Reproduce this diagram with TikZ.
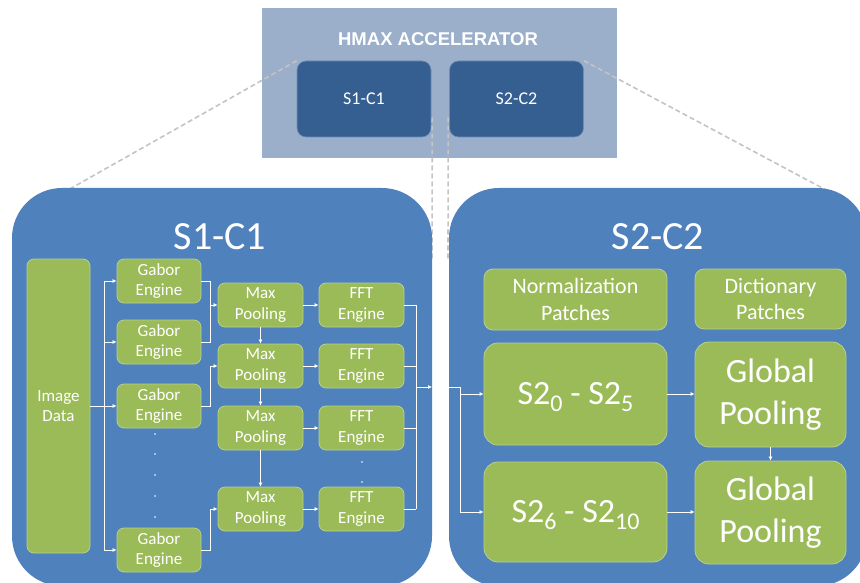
\documentclass[tikz,border=0pt]{standalone}
\usepackage{fontspec}
\setmainfont{Carlito}
\newfontfamily\headfont{Liberation Sans}
\usetikzlibrary{arrows.meta}

\definecolor{panelblue}{HTML}{4F81BD}
\definecolor{boxgreen}{HTML}{9BBB59}
\definecolor{boxedge}{HTML}{B9D08C}
\definecolor{hostgray}{HTML}{9BAFCA}
\definecolor{hostblue}{HTML}{365F91}
\definecolor{hostedge}{HTML}{6D8DB6}
\definecolor{linkgray}{HTML}{C4C4C4}

\newcommand{\lowidx}[1]{\raisebox{-7pt}[0pt][0pt]{\fontsize{24}{24}\selectfont #1}}

\tikzset{
  panel/.style={fill=panelblue, rounded corners=50pt, inner sep=0pt},
  hostbox/.style={fill=hostblue, draw=hostedge, line width=0.6pt, rounded corners=9pt,
    minimum width=134pt, minimum height=76pt, inner sep=0pt, text=white,
    font=\fontsize{18}{18}\selectfont},
  title/.style={text=white, inner sep=0pt, font=\fontsize{40}{40}\selectfont},
  block/.style={fill=boxgreen, draw=boxedge, line width=0.8pt, rounded corners=7pt,
    text=white, align=center, inner sep=0pt, font=\fontsize{17}{20.7}\selectfont},
  small/.style={block, minimum width=85pt, minimum height=44pt},
  patch/.style={block, rounded corners=9pt, font=\fontsize{22}{26.8}\selectfont},
  big/.style={block, rounded corners=14pt, font=\fontsize{34}{41.5}\selectfont},
  wire/.style={draw=white, line width=0.7pt},
  flow/.style={wire, -{Latex[length=4pt,width=4pt]}},
  link/.style={draw=linkgray, line width=1.6pt, dash pattern=on 5pt off 3pt},
}

\begin{document}
\begin{tikzpicture}[x=1pt,y=-1pt]

\useasboundingbox[fill=white] (0,0) rectangle (860,583);

% accelerator overview
\node[fill=hostgray, minimum width=355pt, minimum height=150pt, inner sep=0pt] (host) at (439.5,83) {};
\node[text=white, inner sep=0pt, font=\headfont\bfseries\fontsize{18.5}{18.5}\selectfont] (hosttitle) at (438,39) {HMAX ACCELERATOR};
\node[hostbox] (top1) at (364,99) {S1-C1};
\node[hostbox] (top2) at (516.5,99) {S2-C2};

% zoom lines
\coordinate (d1) at (68,190);
\coordinate (d2) at (432,260);
\coordinate (d3) at (448,260);
\coordinate (d4) at (826,190);

\draw[link] (top1.north west) -- (d1);
\draw[link] ([xshift=1pt,yshift=20pt]top1.south east) -- (d2);
\draw[link] ([xshift=-1pt,yshift=20pt]top2.south west) -- (d3);
\draw[link] (top2.north east) -- (d4);

% panels
\node[panel, minimum width=420pt, minimum height=398pt] (s1c1) at (222,387) {};
\node[panel, minimum width=418pt, minimum height=398pt] (s2c2) at (658,387) {};

\node[title] (s1title) at (220,237) {S1-C1};
\node[title] (s2title) at (658,237) {S2-C2};

% S1-C1
\node[block, minimum width=63pt, minimum height=294pt] (img) at (58.5,406) {Image\\Data};

\foreach \n/\y in {1/281,2/342,3/406,4/550}
    \node[small, minimum width=84pt] (g\n) at (159,\y) {Gabor\\Engine};

\foreach \n/\y in {1/305,2/366,3/428,4/509} {
    \node[small] (m\n) at (260.5,\y) {Max\\Pooling};
    \node[small] (f\n) at (361.5,\y) {FFT\\Engine};
    \draw[flow] (m\n) -- (f\n);
}

\foreach \y in {434,454,475,496,517}
    \fill[white] (155,\y) circle (0.9pt);

\foreach \y in {462,482}
    \fill[white] (362,\y) circle (0.9pt);

\coordinate (gbus) at (104,0);
\coordinate (mbus) at (210,0);
\coordinate (fbus) at (416,0);
\coordinate (sbus) at (460,0);
\coordinate (s1out) at (432,387);
\coordinate (s2in) at (449,387);

\draw[flow] (img) -- (g3);
\draw[wire] (gbus |- g1) -- (gbus |- g4);
\foreach \n in {1,2,4}
    \draw[flow] (gbus |- g\n) -- (g\n);

\draw[wire] (g1.east) -| (mbus |- g2) -- (g2.east);
\draw[flow] (mbus |- m1) -- (m1.west);
\draw[flow] (g3.east) -| (mbus |- m2) -- (m2.west);
\draw[flow] (g4.east) -| (mbus |- m4) -- (m4.west);

\foreach \a/\b in {1/2,2/3,3/4}
    \draw[flow] (m\a) -- (m\b);

\draw[wire] (fbus |- f1) -- (fbus |- f4);
\foreach \n in {1,...,4}
    \draw[wire] (f\n.east) -- (fbus |- f\n);
\draw[flow] (fbus |- s1out) -- (s1out);

% S2-C2
\node[patch, minimum width=183pt, minimum height=61pt] (norm) at (575.5,299.5) {Normalization\\Patches};
\node[patch, minimum width=151pt, minimum height=60pt] (dict) at (770.5,299) {Dictionary\\Patches};
\node[big, minimum width=183pt, minimum height=102pt] (s2a) at (575.5,394) {S2\lowidx{0} - S2\lowidx{5}};
\node[big, minimum width=151pt, minimum height=105pt] (gp1) at (770.5,394.5) {Global\\Pooling};
\node[big, minimum width=183pt, minimum height=100pt] (s2b) at (575.5,512) {S2\lowidx{6} - S2\lowidx{10}};
\node[big, minimum width=151pt, minimum height=103pt] (gp2) at (770.5,512.5) {Global\\Pooling};

\draw[wire] (s2in) -| (sbus |- s2b);
\draw[flow] (sbus |- s2a) -- (s2a);
\draw[flow] (sbus |- s2b) -- (s2b);
\draw[flow] (s2a.east) -- (s2a.east -| gp1.west);
\draw[flow] (s2b.east) -- (s2b.east -| gp2.west);
\draw[flow] (gp1) -- (gp2);

\end{tikzpicture}
\end{document}
